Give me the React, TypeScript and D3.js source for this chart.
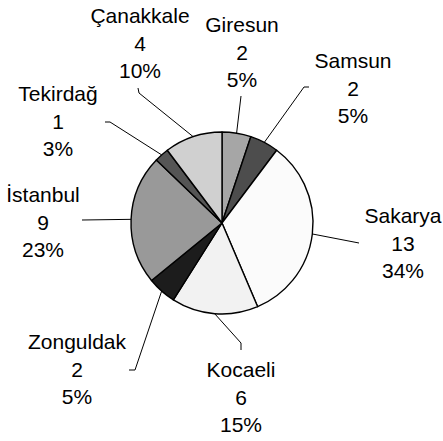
import React from 'react';
import * as d3 from 'd3';

// Slice data, clockwise from 12 o'clock
const cities = ['Giresun', 'Samsun', 'Sakarya', 'Kocaeli', 'Zonguldak', 'İstanbul', 'Tekirdağ', 'Çanakkale'];
const counts = [2, 2, 13, 6, 2, 9, 1, 4];
const percentLabels = ['5%', '5%', '34%', '15%', '5%', '23%', '3%', '10%'];

// Fill greys per slice
const fills = ['#a6a6a6', '#4d4d4d', '#fbfbfb', '#f2f2f2', '#1c1c1c', '#999999', '#555555', '#d0d0d0'];

// Label layout: text center x, first baseline y, leader end, optional tick end
const labelLayout = [
  { x: 242, y: 32, end: [241, 96], tick: null },
  { x: 353, y: 68, end: [304, 87], tick: [309, 87] },
  { x: 403, y: 223, end: [359, 243], tick: null },
  { x: 241, y: 377, end: [241, 343], tick: [241, 350] },
  { x: 77, y: 349, end: [135, 370], tick: [129, 370] },
  { x: 43, y: 202, end: [82, 220], tick: null },
  { x: 58, y: 101, end: [110, 122], tick: [105, 122] },
  { x: 140, y: 23, end: [139, 93], tick: [138, 88] },
];

const width = 443;
const height = 441;
const cx = 222;
const cy = 223;
const radius = 91;
const lineGap = 27.5;

export default function App() {
  const pie = d3.pie<number>().sort(null).value(d => d);
  const arcs = pie(counts);
  const arc = d3.arc<d3.PieArcDatum<number>>().innerRadius(0).outerRadius(radius);
  const edge = d3.arc<d3.PieArcDatum<number>>().innerRadius(radius).outerRadius(radius);

  return (
    <svg
      width={width}
      height={height}
      style={{ position: 'absolute', left: 0, top: 0, background: '#fff' }}
      fontFamily="'Liberation Sans', Arial, sans-serif"
    >
      <rect width={width} height={height} fill="#fff" />
      <g transform={`translate(${cx},${cy})`}>
        {arcs.map((a, i) => (
          <path key={i} d={arc(a) || ''} fill={fills[i]} stroke="#000" strokeWidth={1.4} strokeLinejoin="round" />
        ))}
      </g>
      {arcs.map((a, i) => {
        const [ex, ey] = edge.centroid(a);
        const lay = labelLayout[i];
        const pts = [[cx + ex, cy + ey], lay.end];
        if (lay.tick) pts.push(lay.tick);
        const line = d3.line()(pts as [number, number][]);
        return <path key={'l' + i} d={line || ''} fill="none" stroke="#000" strokeWidth={1} />;
      })}
      {cities.map((c, i) => {
        const lay = labelLayout[i];
        return (
          <text key={'t' + i} x={lay.x} y={lay.y} textAnchor="middle" fontSize={21} fill="#000">
            <tspan x={lay.x}>{c}</tspan>
            <tspan x={lay.x} dy={lineGap}>{counts[i]}</tspan>
            <tspan x={lay.x} dy={lineGap}>{percentLabels[i]}</tspan>
          </text>
        );
      })}
    </svg>
  );
}
